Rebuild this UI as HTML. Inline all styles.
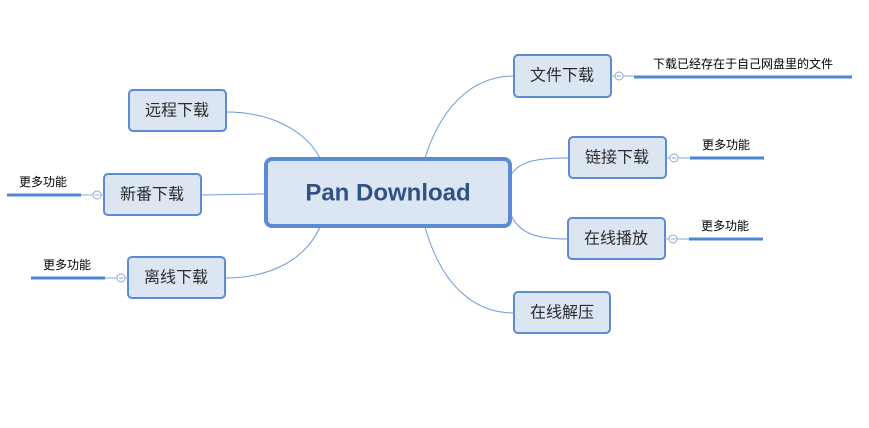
<!DOCTYPE html>
<html><head><meta charset="utf-8"><style>
body{margin:0;background:#fff}
svg{display:block}
.n{fill:#dce6f3;stroke:#5b8bd2;stroke-width:2}
.t{font-family:"Liberation Sans","Noto Sans CJK SC",sans-serif;font-size:16px;fill:#2b2b2b;text-anchor:middle;dominant-baseline:central}
.s{font-family:"Liberation Sans","Noto Sans CJK SC",sans-serif;font-size:12px;fill:#000;text-anchor:middle}
.c{fill:none;stroke:#6f9bd8;stroke-width:1}
.b{stroke:#4f86d4;stroke-width:3}
.o{fill:#fff;stroke:#8aa9d8;stroke-width:1}
</style></head><body>
<svg width="869" height="428" viewBox="0 0 869 428">
<path class="c" d="M226,112 C270,112 305,130 320,158"/>
<path class="c" d="M201,195 L265,194"/>
<path class="c" d="M225,278 C270,278 305,260 320,227"/>
<path class="c" d="M514,76 C470,76 440,110 425,158"/>
<path class="c" d="M569,158 C540,158 520,160 511,175"/>
<path class="c" d="M568,239 C540,239 520,235 511,215"/>
<path class="c" d="M514,313 C470,313 440,280 425,227"/>
<rect x="266" y="159" width="244" height="67" rx="6" fill="#dce6f3" stroke="#5b8bd2" stroke-width="4"/>
<text x="388" y="193" class="t" style="font-size:24px;font-weight:bold;fill:#2f5283">Pan Download</text>
<rect class="n" x="129" y="90" width="97" height="41" rx="4"/><text class="t" x="177" y="111">远程下载</text>
<rect class="n" x="104" y="174" width="97" height="41" rx="4"/><text class="t" x="152" y="195">新番下载</text>
<rect class="n" x="128" y="257" width="97" height="41" rx="4"/><text class="t" x="176" y="278">离线下载</text>
<rect class="n" x="514" y="55" width="97" height="42" rx="4"/><text class="t" x="562" y="76">文件下载</text>
<rect class="n" x="569" y="137" width="97" height="41" rx="4"/><text class="t" x="617" y="158">链接下载</text>
<rect class="n" x="568" y="218" width="97" height="41" rx="4"/><text class="t" x="616" y="239">在线播放</text>
<rect class="n" x="514" y="292" width="96" height="41" rx="4"/><text class="t" x="562" y="313">在线解压</text>
<!-- right leaves -->
<line x1="611" y1="76" x2="634" y2="76" stroke="#8aa9d8"/>
<circle class="o" cx="619" cy="76" r="4"/><line x1="617" y1="76" x2="621" y2="76" stroke="#8aa9d8"/>
<line class="b" x1="634" y1="77" x2="852" y2="77"/>
<text class="s" x="743" y="68">下载已经存在于自己网盘里的文件</text>
<line x1="666" y1="158" x2="690" y2="158" stroke="#8aa9d8"/>
<circle class="o" cx="674" cy="158" r="4"/><line x1="672" y1="158" x2="676" y2="158" stroke="#8aa9d8"/>
<line class="b" x1="690" y1="158" x2="764" y2="158"/>
<text class="s" x="726" y="149">更多功能</text>
<line x1="665" y1="239" x2="689" y2="239" stroke="#8aa9d8"/>
<circle class="o" cx="673" cy="239" r="4"/><line x1="671" y1="239" x2="675" y2="239" stroke="#8aa9d8"/>
<line class="b" x1="689" y1="239" x2="763" y2="239"/>
<text class="s" x="725" y="230">更多功能</text>
<!-- left leaves -->
<line x1="81" y1="195" x2="104" y2="195" stroke="#8aa9d8"/>
<circle class="o" cx="97" cy="195" r="4"/><line x1="95" y1="195" x2="99" y2="195" stroke="#8aa9d8"/>
<line class="b" x1="7" y1="195" x2="81" y2="195"/>
<text class="s" x="43" y="186">更多功能</text>
<line x1="105" y1="278" x2="128" y2="278" stroke="#8aa9d8"/>
<circle class="o" cx="121" cy="278" r="4"/><line x1="119" y1="278" x2="123" y2="278" stroke="#8aa9d8"/>
<line class="b" x1="31" y1="278" x2="105" y2="278"/>
<text class="s" x="67" y="269">更多功能</text>
</svg>
</body></html>
